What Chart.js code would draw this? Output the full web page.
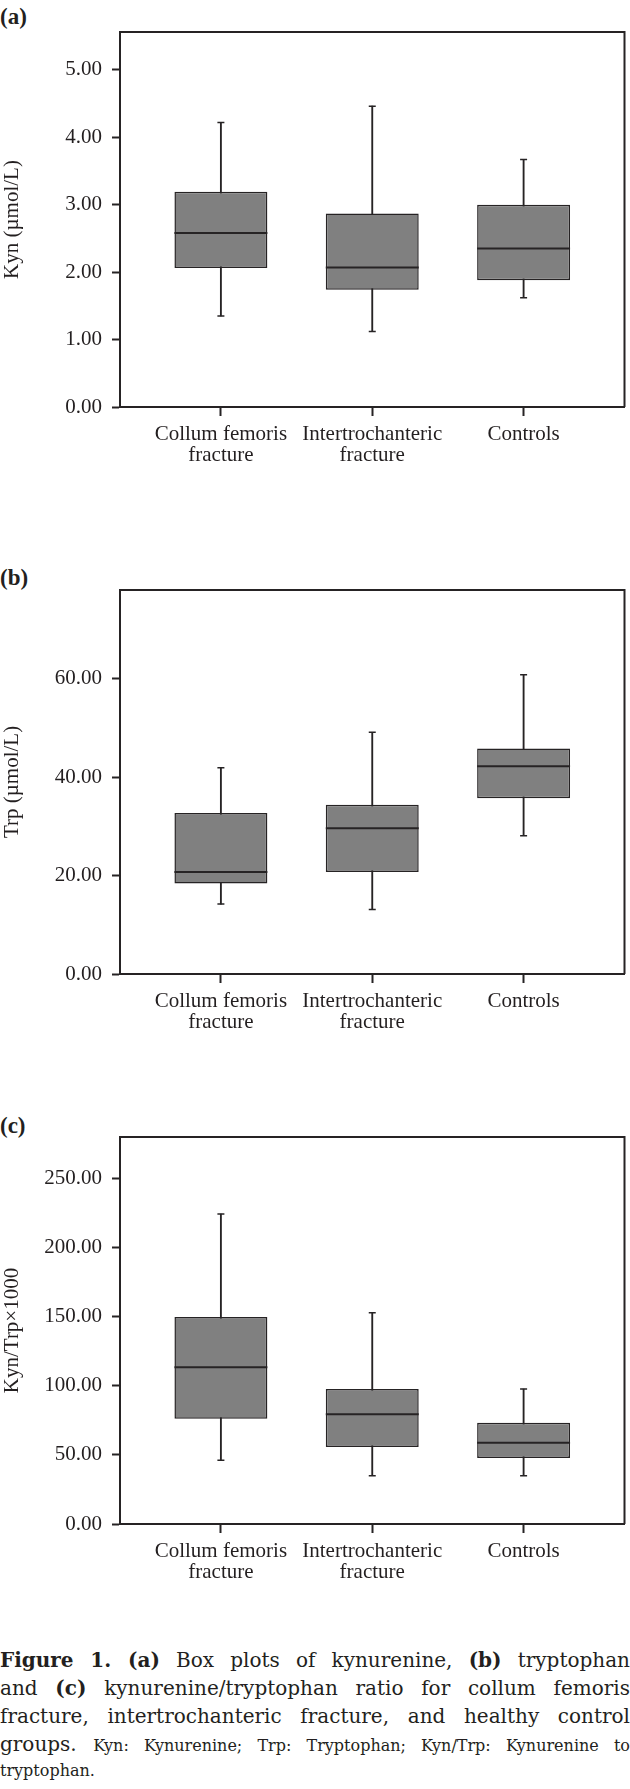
<!DOCTYPE html>
<html>
<head>
<meta charset="utf-8">
<title>Figure 1</title>
<script src="https://cdn.jsdelivr.net/npm/chart.js@4.4.1/dist/chart.umd.min.js"></script>
<style>
  html, body { margin: 0; padding: 0; background: #fff; }
  body { width: 630px; height: 1789px; position: relative; overflow: hidden;
         font-family: 'DejaVu Serif', serif; color: #231f20; }
  canvas { position: absolute; left: 0; }
  .tag { position: absolute; left: 0; font: bold 23px/23px 'Liberation Serif', serif; }
  .caption { position: absolute; left: 0; top: 1646px; width: 630px; }
  .caption .ln { font-size: 20px; line-height: 28px; text-align: justify; text-align-last: justify; }
  .caption .small { font-size: 16px; }
  .caption .last { font-size: 16px; line-height: 22px; text-align: left; }
</style>
</head>
<body>
<div class="tag" style="top:5px">(a)</div>
<canvas id="kynChart" width="630" height="470" style="top:0px"></canvas>
<div class="tag" style="top:566px">(b)</div>
<canvas id="trpChart" width="630" height="500" style="top:540px"></canvas>
<div class="tag" style="top:1114px">(c)</div>
<canvas id="ratioChart" width="630" height="500" style="top:1090px"></canvas>

<div class="caption">
  <div class="ln"><b>Figure 1. (a)</b> Box plots of kynurenine, <b>(b)</b> tryptophan</div>
  <div class="ln">and <b>(c)</b> kynurenine/tryptophan ratio for collum femoris</div>
  <div class="ln">fracture, intertrochanteric fracture, and healthy control</div>
  <div class="ln">groups. <span class="small">Kyn: Kynurenine; Trp: Tryptophan; Kyn/Trp: Kynurenine to</span></div>
  <div class="last">tryptophan.</div>
</div>

<script>
// Group labels (shared by all three panels)
const categories = [['Collum femoris', 'fracture'], ['Intertrochanteric', 'fracture'], ['Controls']];

// (a) Kynurenine, µmol/L
const kynMin = [1.35, 1.12, 1.62];
const kynQ1 = [2.06, 1.74, 1.88];
const kynMedian = [2.58, 2.07, 2.35];
const kynQ3 = [3.19, 2.87, 3.00];
const kynMax = [4.22, 4.46, 3.67];

// (b) Tryptophan, µmol/L
const trpMin = [14.2, 13.1, 28.1];
const trpQ1 = [18.4, 20.7, 35.7];
const trpMedian = [20.7, 29.6, 42.2];
const trpQ3 = [32.7, 34.4, 45.8];
const trpMax = [41.9, 49.1, 60.8];

// (c) Kyn/Trp x 1000
const ratioMin = [46.1, 35.0, 35.0];
const ratioQ1 = [76.1, 55.7, 47.7];
const ratioMedian = [113.5, 79.4, 58.8];
const ratioQ3 = [149.7, 97.6, 73.2];
const ratioMax = [224.3, 152.8, 97.6];

const INK = '#262324';
const FILL = '#808080';
const BOX_PCT = 0.614; // box width as a share of the group spacing

Chart.defaults.font.family = "'Liberation Serif', serif";
Chart.defaults.font.size = 21;
Chart.defaults.color = '#231f20';

// frame: top and right edges of the plot area (left/bottom are the axis borders)
const framePlugin = {
  id: 'frame',
  afterDraw(chart) {
    const {ctx, chartArea: a} = chart;
    ctx.save();
    ctx.strokeStyle = INK;
    ctx.lineWidth = 2;
    ctx.beginPath();
    ctx.moveTo(a.left, a.top);
    ctx.lineTo(a.right, a.top);
    ctx.lineTo(a.right, a.bottom);
    ctx.stroke();
    ctx.restore();
  }
};

const points = arr => arr.map((v, i) => ({x: i, y: v}));
const spans = (lo, hi) => lo.map((v, i) => ({x: i, y: [v, hi[i]]}));

// half of the box width in pixels, for the median line
function halfBox(ctx) {
  const x = ctx.chart.scales.x;
  return (x.getPixelForValue(1) - x.getPixelForValue(0)) * BOX_PCT / 2;
}

/**
 * Build one box plot panel
 */
function makeBoxChart(id, cfg) {
  const canvas = document.getElementById(id);
  const capStyle = {
    type: 'line',
    showLine: false,
    pointStyle: 'line',
    pointRadius: 3.5,
    pointBorderWidth: 1.5,
    pointBorderColor: INK,
    order: 1
  };

  return new Chart(canvas, {
    type: 'bar',
    data: {
      datasets: [
        // whisker (min..max), drawn under the box
        { type: 'bar', data: spans(cfg.min, cfg.max), backgroundColor: INK, borderWidth: 0,
          barThickness: 1.2, grouped: false, order: 3 },
        // box (Q1..Q3)
        { type: 'bar', data: spans(cfg.q1, cfg.q3), backgroundColor: FILL, borderColor: INK,
          borderWidth: 1.5, borderSkipped: false, grouped: false,
          categoryPercentage: 1, barPercentage: BOX_PCT, order: 2 },
        // median
        { type: 'line', data: points(cfg.median), showLine: false, pointStyle: 'line',
          pointRadius: halfBox, pointBorderWidth: 2, pointBorderColor: INK, order: 1 },
        // whisker caps
        Object.assign({ data: points(cfg.max) }, capStyle),
        Object.assign({ data: points(cfg.min) }, capStyle)
      ]
    },
    options: {
      responsive: false,
      animation: false,
      events: [],
      devicePixelRatio: 1,
      layout: { padding: { top: cfg.padTop, right: 1, left: 0, bottom: 0 } },
      plugins: { legend: { display: false }, tooltip: { enabled: false } },
      scales: {
        x: {
          type: 'linear',
          min: -2 / 3,
          max: 8 / 3,
          offset: false,
          afterBuildTicks: scale => { scale.ticks = categories.map((c, i) => ({ value: i })); },
          afterFit: scale => { scale.height = cfg.axisHeight; },
          grid: { display: true, offset: false, drawOnChartArea: false, drawTicks: true,
                  tickLength: 9, tickWidth: 2, tickColor: INK },
          border: { display: true, color: INK, width: 2 },
          ticks: {
            padding: 8,
            maxRotation: 0,
            autoSkip: false,
            font: { size: 21, lineHeight: 1.0 },
            callback: value => categories[value]
          }
        },
        y: {
          min: 0,
          max: cfg.yMax,
          afterFit: scale => { scale.width = 120; },
          grid: { display: true, drawOnChartArea: false, drawTicks: true,
                  tickLength: 8, tickWidth: 2, tickColor: INK },
          border: { display: true, color: INK, width: 2 },
          title: { display: true, text: cfg.title, font: { size: 21 }, padding: { top: 0, bottom: 0 } },
          ticks: {
            stepSize: cfg.step,
            includeBounds: false,
            padding: 10,
            callback: value => value.toFixed(2)
          }
        }
      }
    },
    plugins: [framePlugin]
  });
}

makeBoxChart('kynChart', {
  min: kynMin, q1: kynQ1, median: kynMedian, q3: kynQ3, max: kynMax,
  title: 'Kyn (µmol/L)', yMax: 5.56, step: 1, padTop: 32, axisHeight: 63
});

makeBoxChart('trpChart', {
  min: trpMin, q1: trpQ1, median: trpMedian, q3: trpQ3, max: trpMax,
  title: 'Trp (µmol/L)', yMax: 78, step: 20, padTop: 50, axisHeight: 66
});

makeBoxChart('ratioChart', {
  min: ratioMin, q1: ratioQ1, median: ratioMedian, q3: ratioQ3, max: ratioMax,
  title: 'Kyn/Trp×1000', yMax: 280, step: 50, padTop: 47, axisHeight: 66
});
</script>
</body>
</html>
